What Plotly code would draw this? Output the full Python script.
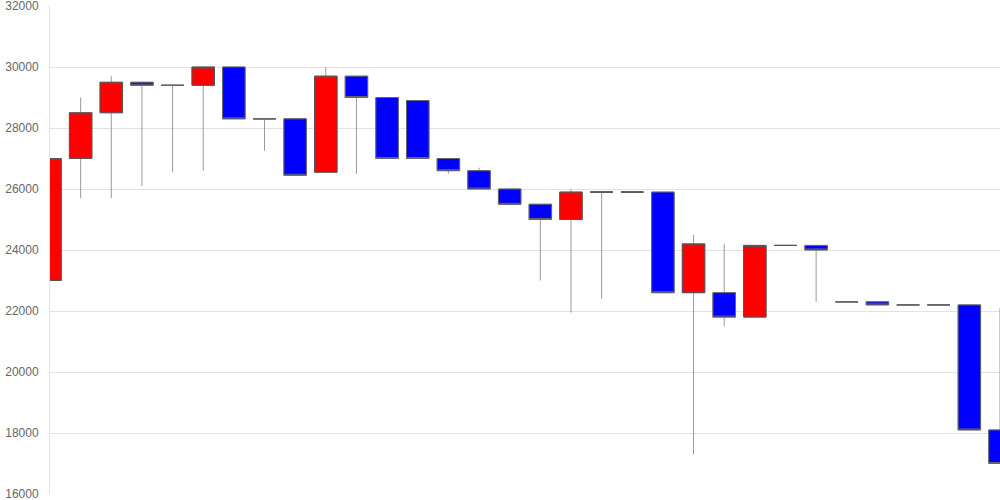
import plotly.graph_objects as go

idx = list(range(32))
opens = [23000, 27000, 28500, 29500, 29400, 29400, 30000, 28300, 28300, 26550,
         29700, 29000, 28900, 27000, 26600, 26000, 25500, 25000, 25900, 25900,
         25900, 22600, 22600, 21800, 24150, 24150, 22300, 22300, 22200, 22200,
         22200, 18100]
highs = [27000, 29000, 29700, 29500, 29400, 30000, 30000, 28300, 28300, 30000,
         29700, 29000, 28900, 27000, 26700, 26000, 25500, 26000, 25900, 25900,
         25900, 24500, 24200, 24150, 24150, 24150, 22300, 22300, 22200, 22200,
         22200, 22100]
lows = [23000, 25700, 25700, 26100, 26550, 26600, 28300, 27250, 26450, 26550,
        26500, 27000, 27000, 26500, 26000, 25500, 23000, 21950, 22400, 25900,
        22600, 17300, 21500, 21800, 24150, 22300, 22300, 22200, 22200, 22200,
        18100, 17000]
closes = [27000, 28500, 29500, 29400, 29400, 30000, 28300, 28300, 26450, 29700,
          29000, 27000, 27000, 26600, 26000, 25500, 25000, 25900, 25900, 25900,
          22600, 24200, 21800, 24150, 24150, 24000, 22300, 22200, 22200, 22200,
          18100, 17000]
y_ticks = [16000, 18000, 20000, 22000, 24000, 26000, 28000, 30000, 32000]

body_hi = [max(o, c) for o, c in zip(opens, closes)]
body_lo = [min(o, c) for o, c in zip(opens, closes)]

fig = go.Figure()
# wicks
fig.add_trace(go.Candlestick(
    x=idx, open=opens, high=highs, low=lows, close=closes,
    increasing=dict(line=dict(color="#999999", width=1), fillcolor="rgba(0,0,0,0)"),
    decreasing=dict(line=dict(color="#999999", width=1), fillcolor="rgba(0,0,0,0)"),
    whiskerwidth=0, showlegend=False, hoverinfo="skip"))
# bodies
fig.add_trace(go.Candlestick(
    x=idx, open=opens, high=body_hi, low=body_lo, close=closes,
    increasing=dict(line=dict(color="#555555", width=1), fillcolor="#ff0000"),
    decreasing=dict(line=dict(color="#666666", width=1), fillcolor="#0000ff"),
    whiskerwidth=0, showlegend=False))

fig.update_layout(
    width=1000, height=500,
    margin=dict(l=50, r=0, t=6, b=6, autoexpand=False),
    paper_bgcolor="white", plot_bgcolor="white",
    boxgap=0.266, boxgroupgap=0,
    font=dict(family="Liberation Sans, Arial, sans-serif", size=12, color="#666666"),
)
fig.update_xaxes(range=[0, 31], showticklabels=False, showgrid=False, zeroline=False,
                 rangeslider=dict(visible=False), showline=False, type="linear",
                 automargin=False)
fig.update_yaxes(range=[16000, 32000], tickvals=y_ticks, ticktext=[str(v) for v in y_ticks],
                 showgrid=True, gridcolor="#e2e2e2", gridwidth=1, zeroline=False,
                 showline=True, linecolor="#e2e2e2", linewidth=1,
                 ticks="", ticklabelstandoff=8, automargin=False,
                 ticklabeloverflow="allow",
                 tickfont=dict(family="Liberation Sans, Arial, sans-serif", size=12, color="#666666"))

fig.write_html("out.html", config={"displayModeBar": False},
               post_script="document.body.style.margin='0';document.body.style.overflow='hidden';")
